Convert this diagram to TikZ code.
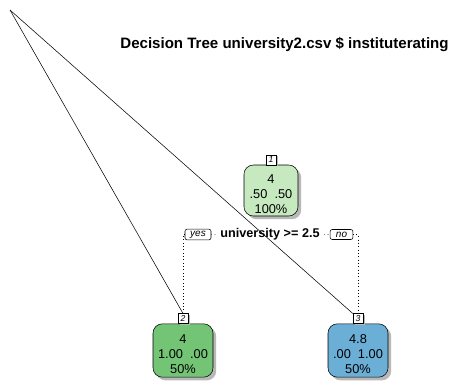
\documentclass[tikz,border=0pt]{standalone}
\usepackage{fontspec}
\setmainfont{Liberation Sans}
\usetikzlibrary{positioning}
\usetikzlibrary{shadows}
\definecolor{rootFill}{HTML}{C7E9C0}
\definecolor{yesFill}{HTML}{74C476}
\definecolor{noFill}{HTML}{6BAED6}
\newcommand{\leafText}[3]{%
  \rule{0pt}{11.5pt}#1\\#2\\#3%
}

\begin{document}
\begin{tikzpicture}[%
  x=0.75pt,y=-0.75pt,%
  treeBox/.style={draw,rounded corners=7pt,align=center,inner sep=1pt,%
    minimum width=45pt,minimum height=40pt,%
    font=\fontsize{9.6}{11.25}\selectfont,%
    drop shadow={shadow xshift=2.4pt,shadow yshift=-2.4pt,opacity=1,fill=black!28}},%
  numBox/.style={draw,fill=white,inner sep=0.8pt,minimum width=7.5pt,minimum height=7.5pt,%
    font=\fontsize{6.5}{6.5}\itshape,%
    drop shadow={shadow xshift=1.2pt,shadow yshift=-1.2pt,opacity=1,fill=black!28}},%
  branchBox/.style={draw,rounded corners=1.5pt,inner sep=1.2pt,minimum height=7.5pt,%
    font=\fontsize{7.5}{7.5}\itshape},%
  splitLine/.style={dotted,line width=0.5pt}%
]
%
%
\useasboundingbox (0,0) rectangle (453,380);
\coordinate (apex) at (10,10);
%
%
% Title of the plot.
\node[font=\fontsize{11.3}{13}\bfseries\selectfont] (title) at (284.5,44)
  {Decision Tree university2.csv \$ instituterating};
%
% The root and the two leaves.
\node[treeBox,fill=rootFill,minimum width=40.5pt,minimum height=38.25pt] (rootNode) at (271,190.5)
  {\leafText{4}{.50\ \ .50}{100\%}};
\node[treeBox,fill=yesFill] (leftLeaf) at (183,350.5)
  {\leafText{4}{1.00\ \ .00}{50\%}};
\node[treeBox,fill=noFill] (rightLeaf) at (358,350.5)
  {\leafText{4.8}{.00\ \ 1.00}{50\%}};
%
% Node numbers on top of each box.
\node[numBox,above=-0.3pt of rootNode] (num1) {1};
\node[numBox,above=-0.3pt of leftLeaf] (num2) {2};
\node[numBox,above=-0.3pt of rightLeaf] (num3) {3};
%
% Split label with its yes and no boxes.
\node[font=\fontsize{9.5}{11}\bfseries\selectfont] (split) at (270,234) {university >= 2.5};
\node[branchBox,minimum width=19.5pt] (yesBox) at (198,234.5) {yes};
\node[branchBox,minimum width=17pt] (noBox) at (341.5,234.5) {no};
\draw[splitLine] (yesBox) -- (split);
\draw[splitLine] (split) -- (noBox);
\draw[splitLine] (yesBox.west) -| (num2.north);
\draw[splitLine] (noBox.east) -| (num3.north);
%
% Lines from the corner.
\draw (apex) -- (num2.north);
\draw (apex) -- (num3.north west);
\end{tikzpicture}
\end{document}
